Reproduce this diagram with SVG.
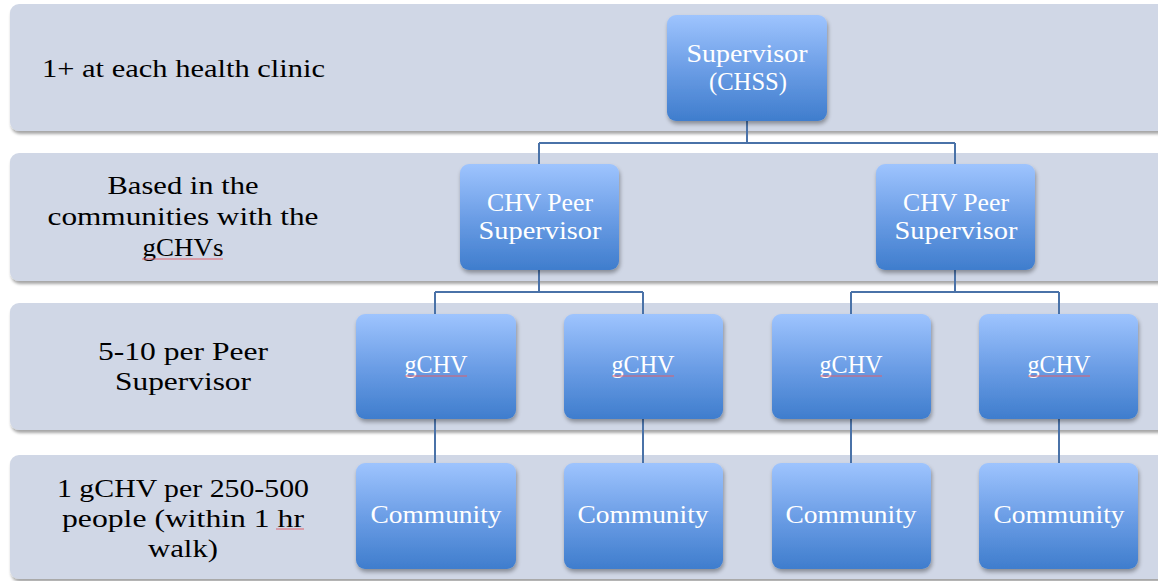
<svg xmlns="http://www.w3.org/2000/svg" width="1158" height="581" viewBox="0 0 1158 581">
<defs>
<linearGradient id="ng" x1="0" y1="0" x2="0" y2="1">
<stop offset="0" stop-color="#9EC4FE"/>
<stop offset="0.5" stop-color="#6C9EE6"/>
<stop offset="1" stop-color="#3F7DCD"/>
</linearGradient>
<filter id="bs" x="-5%" y="-10%" width="110%" height="130%">
<feGaussianBlur in="SourceAlpha" stdDeviation="1.5"/>
<feOffset dx="1" dy="3" result="b"/>
<feComponentTransfer><feFuncA type="linear" slope="0.35"/></feComponentTransfer>
<feMerge><feMergeNode/><feMergeNode in="SourceGraphic"/></feMerge>
</filter>
<filter id="ns" x="-10%" y="-10%" width="125%" height="130%">
<feGaussianBlur in="SourceAlpha" stdDeviation="2"/>
<feOffset dx="1" dy="3"/>
<feComponentTransfer><feFuncA type="linear" slope="0.35"/></feComponentTransfer>
<feMerge><feMergeNode/><feMergeNode in="SourceGraphic"/></feMerge>
</filter>
</defs>
<style>
.band{fill:#D0D7E6;filter:url(#bs)}
.node{fill:url(#ng);filter:url(#ns)}
.lbl{font-family:"Liberation Serif","DejaVu Serif",serif;font-size:26px;fill:#000;text-anchor:middle}
.nt{font-family:"Liberation Serif","DejaVu Serif",serif;font-size:26px;fill:#fff;text-anchor:middle}
.conn{stroke:#4A72A8;stroke-width:2;fill:none}
.sq{stroke:#E0606A;stroke-width:1;fill:none}
</style>
<rect width="1158" height="581" fill="#fff"/>
<g id="bands">
<rect class="band" x="10" y="4" width="1160" height="127" rx="9"/>
<rect class="band" x="10" y="153" width="1160" height="128" rx="9"/>
<rect class="band" x="10" y="303" width="1160" height="127" rx="9"/>
<rect class="band" x="10" y="455" width="1160" height="124" rx="9"/>
</g>
<g id="labels">
<text class="lbl" x="42" y="77" style="text-anchor:start" textLength="283" lengthAdjust="spacingAndGlyphs">1+ at each health clinic</text>
<text class="lbl" x="183" y="194" textLength="151" lengthAdjust="spacingAndGlyphs">Based in the</text>
<text class="lbl" x="183" y="225" textLength="271" lengthAdjust="spacingAndGlyphs">communities with the</text>
<text class="lbl" x="183" y="256" textLength="81" lengthAdjust="spacingAndGlyphs">gCHVs</text>
<path class="sq" d="M142 259 h81"/>
<text class="lbl" x="183" y="360" textLength="170" lengthAdjust="spacingAndGlyphs">5-10 per Peer</text>
<text class="lbl" x="183" y="390" textLength="136" lengthAdjust="spacingAndGlyphs">Supervisor</text>
<text class="lbl" x="183" y="497" textLength="252" lengthAdjust="spacingAndGlyphs">1 gCHV per 250-500</text>
<text class="lbl" x="183" y="527" textLength="242" lengthAdjust="spacingAndGlyphs">people (within 1 hr</text>
<text class="lbl" x="183" y="557" textLength="70" lengthAdjust="spacingAndGlyphs">walk)</text>
<path class="sq" d="M276 529 h28"/>
</g>
<g id="connectors">
<path class="conn" d="M747 121 V143 M539 143 H955 M539 143 V164 M955 143 V164"/>
<path class="conn" d="M539 270 V292 M435 292 H643 M435 292 V314 M643 292 V314"/>
<path class="conn" d="M955 270 V292 M851 292 H1059 M851 292 V314 M1059 292 V314"/>
<path class="conn" d="M435 419 V463 M643 419 V463 M851 419 V463 M1059 419 V463"/>
</g>
<g id="n-supervisor">
<rect class="node" x="667" y="15" width="160" height="106" rx="9"/>
<text class="nt" x="747" y="62" textLength="121" lengthAdjust="spacingAndGlyphs">Supervisor</text>
<text class="nt" x="748" y="90" textLength="78" lengthAdjust="spacingAndGlyphs">(CHSS)</text>
</g>
<g id="n-peer1">
<rect class="node" x="460" y="164" width="159" height="106" rx="9"/>
<text class="nt" x="540" y="211" textLength="106" lengthAdjust="spacingAndGlyphs">CHV Peer</text>
<text class="nt" x="540" y="239" textLength="123" lengthAdjust="spacingAndGlyphs">Supervisor</text>
</g>
<g id="n-peer2">
<rect class="node" x="876" y="164" width="159" height="106" rx="9"/>
<text class="nt" x="956" y="211" textLength="106" lengthAdjust="spacingAndGlyphs">CHV Peer</text>
<text class="nt" x="956" y="239" textLength="123" lengthAdjust="spacingAndGlyphs">Supervisor</text>
</g>
<g id="n-gchv1">
<rect class="node" x="356" y="314" width="160" height="105" rx="9"/>
<text class="nt" x="436" y="373" textLength="63" lengthAdjust="spacingAndGlyphs">gCHV</text>
<path class="sq" d="M405 376 h62"/>
</g>
<g id="n-gchv2">
<rect class="node" x="564" y="314" width="159" height="105" rx="9"/>
<text class="nt" x="643" y="373" textLength="63" lengthAdjust="spacingAndGlyphs">gCHV</text>
<path class="sq" d="M612 376 h62"/>
</g>
<g id="n-gchv3">
<rect class="node" x="772" y="314" width="159" height="105" rx="9"/>
<text class="nt" x="851" y="373" textLength="63" lengthAdjust="spacingAndGlyphs">gCHV</text>
<path class="sq" d="M820 376 h62"/>
</g>
<g id="n-gchv4">
<rect class="node" x="979" y="314" width="159" height="105" rx="9"/>
<text class="nt" x="1059" y="373" textLength="63" lengthAdjust="spacingAndGlyphs">gCHV</text>
<path class="sq" d="M1028 376 h62"/>
</g>
<g id="n-comm1">
<rect class="node" x="356" y="463" width="160" height="106" rx="9"/>
<text class="nt" x="436" y="523" textLength="131" lengthAdjust="spacingAndGlyphs">Community</text>
</g>
<g id="n-comm2">
<rect class="node" x="564" y="463" width="159" height="106" rx="9"/>
<text class="nt" x="643" y="523" textLength="131" lengthAdjust="spacingAndGlyphs">Community</text>
</g>
<g id="n-comm3">
<rect class="node" x="772" y="463" width="159" height="106" rx="9"/>
<text class="nt" x="851" y="523" textLength="131" lengthAdjust="spacingAndGlyphs">Community</text>
</g>
<g id="n-comm4">
<rect class="node" x="979" y="463" width="159" height="106" rx="9"/>
<text class="nt" x="1059" y="523" textLength="131" lengthAdjust="spacingAndGlyphs">Community</text>
</g>
</svg>
